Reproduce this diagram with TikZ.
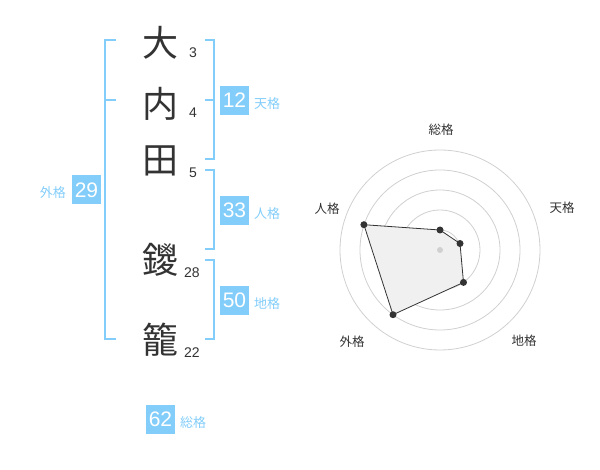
\documentclass[tikz,border=0pt]{standalone}
\usepackage{fontspec}
\setmainfont{Liberation Sans}
\newfontfamily\cjk{Noto Sans CJK JP}
\definecolor{sky}{HTML}{82CDFA}
\definecolor{ink}{HTML}{333333}
\definecolor{ring}{HTML}{D0D0D0}
\definecolor{area}{HTML}{F0F0F0}
\begin{document}
\begin{tikzpicture}[x=1pt,y=-1pt,
  kanji/.style={font=\cjk\fontsize{36}{36}\selectfont, text=ink, inner sep=0pt},
  stroke/.style={font=\fontsize{14}{14}\selectfont, text=ink, inner sep=0pt},
  numbox/.style={fill=sky, text=white, font=\fontsize{21}{21}\selectfont, minimum width=29pt, minimum height=29pt, inner sep=0pt},
  kaku/.style={font=\cjk\fontsize{13}{13}\selectfont, text=sky, inner sep=0pt},
  brk/.style={draw=sky, line width=2pt},
  axlabel/.style={font=\cjk\fontsize{12.5}{12.5}\selectfont, text=ink, inner sep=0pt},
  ringc/.style={draw=ring, line width=0.8pt},
  dot/.style={circle, fill=ink, inner sep=0pt, minimum size=7pt}]
\useasboundingbox (0,0) rectangle (600,470);
% characters
\node[kanji] (k1) at (160,43) {大};
\node[kanji] (k2) at (160,104) {内};
\node[kanji] (k3) at (160,161) {田};
\node[kanji] (k4) at (160,260) {鑁};
\node[kanji] (k5) at (160,340) {籠};
\node[stroke] (s1) at (193,53) {3};
\node[stroke] (s2) at (193,113) {4};
\node[stroke] (s3) at (193,173) {5};
\node[stroke] (s4) at (192,273) {28};
\node[stroke] (s5) at (192,353) {22};
% brackets
\coordinate (la) at (116,40);
\coordinate (lb) at (105,40);
\coordinate (lc) at (105,339);
\coordinate (ld) at (116,339);
\coordinate (lm1) at (105,100);
\coordinate (lm2) at (116,100);
\draw[brk] (la) -- (lb) -- (lc) -- (ld);
\draw[brk] (lm1) -- (lm2);
\coordinate (ta) at (205,40);
\coordinate (tb) at (214,40);
\coordinate (tc) at (214,159);
\coordinate (td) at (205,159);
\coordinate (tm1) at (214,100);
\coordinate (tm2) at (205,100);
\draw[brk] (ta) -- (tb) -- (tc) -- (td);
\draw[brk] (tm1) -- (tm2);
\coordinate (ja) at (205,170);
\coordinate (jb) at (214,170);
\coordinate (jc) at (214,249);
\coordinate (jd) at (205,249);
\draw[brk] (ja) -- (jb) -- (jc) -- (jd);
\coordinate (ca) at (205,260);
\coordinate (cb) at (214,260);
\coordinate (cc) at (214,339);
\coordinate (cd) at (205,339);
\draw[brk] (ca) -- (cb) -- (cc) -- (cd);
% boxes
\node[numbox] (b29) at (86.5,190) {29};
\node[kaku, anchor=east] (g29) at (66,193) {外格};
\node[numbox] (b12) at (234.5,100.5) {12};
\node[kaku, anchor=west] (g12) at (254,104) {天格};
\node[numbox] (b33) at (234.5,210.5) {33};
\node[kaku, anchor=west] (g33) at (254,214) {人格};
\node[numbox] (b50) at (234.5,300.5) {50};
\node[kaku, anchor=west] (g50) at (254,304) {地格};
\node[numbox] (b62) at (160.5,419) {62};
\node[kaku, anchor=west] (g62) at (180,423) {総格};
% radar
\coordinate (o) at (440,250);
\foreach \r in {20,40,60,80,100} \draw[ringc] (o) circle[radius=\r];
\coordinate (p1) at (440,230);
\coordinate (p2) at (460,243.5);
\coordinate (p3) at (463.5,282.4);
\coordinate (p4) at (393,314.7);
\coordinate (p5) at (363.9,224.7);
\filldraw[fill=area, draw=ink, line width=0.8pt] (p1) -- (p2) -- (p3) -- (p4) -- (p5) -- cycle;
\node[circle, fill=ring, inner sep=0pt, minimum size=6pt] (oc) at (o) {};
\node[dot] (d1) at (p1) {};
\node[dot] (d2) at (p2) {};
\node[dot] (d3) at (p3) {};
\node[dot] (d4) at (p4) {};
\node[dot] (d5) at (p5) {};
\node[axlabel] (a1) at (441,130) {総格};
\node[axlabel] (a2) at (562,208) {天格};
\node[axlabel] (a3) at (524,341) {地格};
\node[axlabel] (a4) at (352,342) {外格};
\node[axlabel] (a5) at (327,209) {人格};
\end{tikzpicture}
\end{document}
